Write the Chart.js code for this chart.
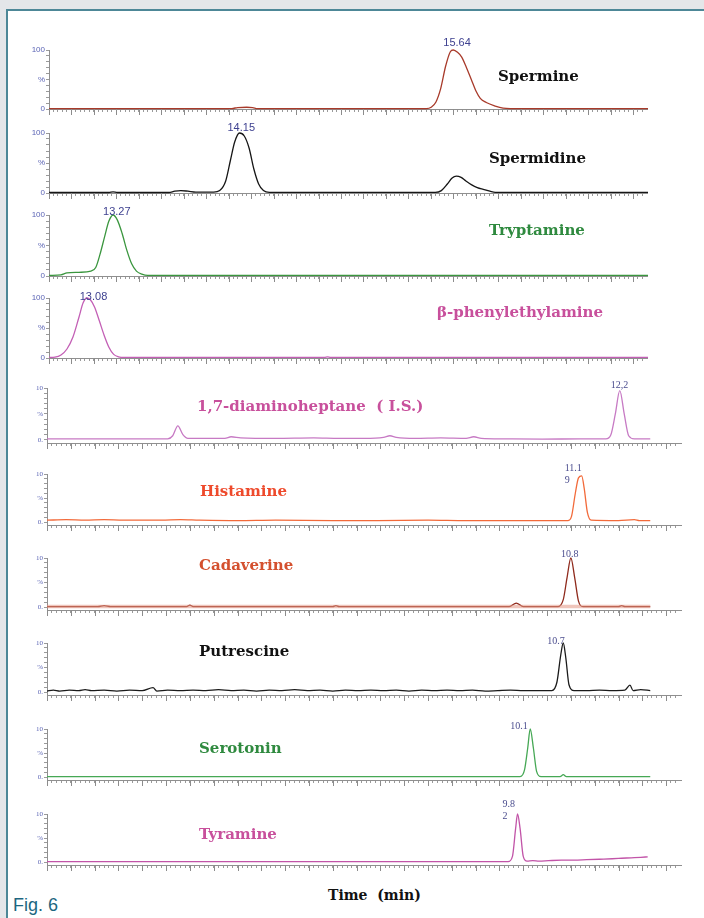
<!DOCTYPE html>
<html>
<head>
<meta charset="utf-8">
<title>Fig. 6</title>
<script src="https://cdn.jsdelivr.net/npm/chart.js@4/dist/chart.umd.min.js"></script>
<style>
  body { margin: 0; width: 704px; height: 918px; overflow: hidden; position: relative; background: #e4e6e9; }
  #frame { position: absolute; left: 6px; top: 9px; width: 800px; height: 1000px; background: #fff; border: 2px solid #4d8797; }
  canvas { position: absolute; }
  .name { position: absolute; font-family: "DejaVu Serif", serif; font-weight: bold; font-size: 15px; white-space: pre; line-height: 16px; transform: translateY(-50%); }
  .peak { position: absolute; white-space: pre; line-height: 12px; }
  .peak.big { font-family: "Liberation Sans", Arial, sans-serif; font-size: 11px; color: #3e4190; }
  .peak.small { font-family: "Liberation Serif", serif; font-size: 10px; color: #4b4d8e; }
  #xtitle { position: absolute; left: 328px; top: 887px; font-family: "DejaVu Serif", serif; font-weight: bold; font-size: 14px; white-space: pre; color: #111; }
  #fig { position: absolute; left: 13px; top: 895px; font-family: "Liberation Sans", Arial, sans-serif; font-size: 18px; color: #1d6680; }
</style>
</head>
<body>
<div id="frame"></div>
<div id="xtitle">Time  (min)</div>
<div id="fig">Fig. 6</div>
<script>
// each trace: [time position 0-100 along the panel axis, % of full scale]
const sperminePts = [[0,0.8],[30.5,0.8],[31.5,2.5],[33,3],[34,2.5],[34.8,0.8],[63,0.8],[63.8,3],[64.6,12],[65.4,35],[66.2,72],[67,97],[67.5,100],[68.2,96],[68.9,88],[69.7,70],[70.5,50],[71.3,30],[72,18],[73,11],[74.5,5],[75.8,1.5],[77,0.8],[100,0.8]];
const spermidinePts = [[0,0.8],[10,0.8],[10.7,2],[11.4,0.8],[20,0.8],[21,3],[22,4],[23.2,3],[24.5,1.5],[27.5,1.5],[28.5,4],[29.5,20],[30.3,55],[31,85],[31.8,100],[32.6,95],[33.4,75],[34.2,40],[35,15],[35.8,4],[36.8,1],[64.5,1],[65.5,4],[66.5,15],[67.3,25],[68,28],[68.8,26],[69.6,20],[70.5,14],[71.5,9],[72.5,6],[73.6,3],[74.5,1],[100,1]];
const tryptaminePts = [[0,1],[2,2],[3,5],[5,6],[7,8],[7.8,14],[8.5,35],[9.3,65],[10,90],[10.7,100],[11.4,92],[12.2,70],[13,42],[13.8,20],[14.6,8],[15.5,3],[16.5,1],[100,1]];
const phenylPts = [[0,1],[1,1.5],[2,5],[3,15],[4,35],[5,68],[5.7,92],[6.3,100],[6.9,97],[7.6,85],[8.4,62],[9.2,38],[10,18],[10.8,6],[11.6,2],[12.6,1],[46,1],[46.5,2],[47,1],[100,1]];
const diaminoPts = [[0,2],[10,2],[19,2],[19.8,8],[20.6,27],[21.4,10],[22.2,3],[28,3],[29,6],[30.5,4],[36,3],[42,4],[46,3],[50,3],[53,5],[54,8],[55,5],[58,3],[62,4],[66,3],[67.2,6],[68.4,3],[72,2],[78,1.5],[84,2],[88,2],[88.8,10],[89.5,50],[90.2,95],[90.9,50],[91.6,8],[92.5,2],[95,2]];
const histaminePts = [[0,4],[3,5],[6,4],[9,5],[12,4],[18,4],[21,5],[24,4],[30,3],[36,4],[45,3],[52,3],[60,4],[66,3],[74,3],[80,3],[82,3],[82.6,12],[83.2,60],[83.7,92],[84.2,96],[84.6,70],[85.1,20],[85.7,4],[90,3],[92.5,5],[93.3,3],[95,3]];
const cadaverinePts = [[0,1],[8,1],[9,3],[10,1],[22,1],[22.5,4],[23,1],[45,1],[45.5,3],[46,1],[60,1],[72.8,1],[73.9,8],[75,1],[80.5,1],[81.3,15],[81.9,60],[82.5,100],[83.1,60],[83.7,12],[84.4,1],[90,1],[90.5,3],[91,1],[95,1]];
const cadaverineBand = [[0,1],[95,1]];
const putrescinePts = [[0,2],[1,4],[2,2],[3.5,4],[5,3],[6,5],[7,3],[9,4],[11,2],[13,4],[15,3],[16.7,9],[17.3,2],[19,4],[21,3],[23,4],[25,3],[27,5],[29,3],[31,4],[33,2],[35,4],[37,3],[39,5],[41,3],[43,4],[45,2],[47,4],[49,3],[51,4],[53,3],[55,4],[57,2],[59,4],[61,3],[63,4],[65,3],[67,4],[69,2],[71,3],[73,4],[75,3],[77,3],[79.5,3],[80.3,20],[80.9,75],[81.3,100],[81.7,70],[82.2,15],[83,3],[85,3],[87,4],[89,3],[91,4],[91.8,14],[92.3,3],[93.5,5],[95,3]];
const serotoninPts = [[0,1],[74.5,1],[75.2,15],[75.7,60],[76.1,100],[76.6,60],[77.1,12],[77.8,1],[80.8,1],[81.3,5],[81.8,1],[95,1]];
const tyraminePts = [[0,1],[30,1],[72.6,1],[73.3,12],[73.8,70],[74.1,100],[74.5,70],[75,12],[75.6,2],[76.5,3],[77.5,2],[79,3],[81,4],[83,4],[85,5],[87,6],[89,7],[90.5,8],[92,9],[93.5,10],[94.6,11]];

// y tick labels at 0, 50 and 100 % of full scale
const bigTickLabels = ['0', '%', '100'];
const smallTickLabels = ['0.', '%', '10'];
const minorStep = 0.75;

const panels = [
  { pts: sperminePts, line: '#a83a2a', name: 'Spermine', nameColor: '#111', nx: 498, ny: 76, peakText: '15.64', pdx: -10, pdy: -14, top: 50, zero: 109, small: false },
  { pts: spermidinePts, line: '#161616', name: 'Spermidine', nameColor: '#111', nx: 489, ny: 158, peakText: '14.15', pdx: -12, pdy: -12, top: 133, zero: 193, small: false },
  { pts: tryptaminePts, line: '#3a963e', name: 'Tryptamine', nameColor: '#2f8a3f', nx: 489, ny: 230, peakText: '13.27', pdx: -10, pdy: -10, top: 215, zero: 276, small: false },
  { pts: phenylPts, line: '#c35fb5', name: 'β-phenylethylamine', nameColor: '#c8509c', nx: 437, ny: 312, peakText: '13.08', pdx: -7, pdy: -8, top: 298, zero: 358, small: false },
  { pts: diaminoPts, line: '#c77ac4', name: '1,7-diaminoheptane  ( I.S.)', nameColor: '#c8509c', nx: 197, ny: 406, peakText: '12,2', pdx: -9, pdy: -9, top: 388, zero: 440, small: true },
  { pts: histaminePts, line: '#f26a3a', name: 'Histamine', nameColor: '#ee4a2c', nx: 200, ny: 491, peakText: '11.1\n9', pdx: -17, pdy: -12, top: 474, zero: 522, small: true },
  { pts: cadaverinePts, band: cadaverineBand, line: '#8f2a1c', name: 'Cadaverine', nameColor: '#d4502e', nx: 199, ny: 565, peakText: '10.8', pdx: -10, pdy: -10, top: 558, zero: 607, small: true },
  { pts: putrescinePts, line: '#1a1a1a', name: 'Putrescine', nameColor: '#111', nx: 199, ny: 651, peakText: '10.7', pdx: -16, pdy: -8, top: 643, zero: 692, small: true },
  { pts: serotoninPts, line: '#46a855', name: 'Serotonin', nameColor: '#2f8a3f', nx: 199, ny: 748, peakText: '10.1', pdx: -20, pdy: -9, top: 729, zero: 777, small: true },
  { pts: tyraminePts, line: '#c254a8', name: 'Tyramine', nameColor: '#c8509c', nx: 199, ny: 834, peakText: '9.8\n2', pdx: -15, pdy: -16, top: 814, zero: 862, small: true },
];

// longer tick every 5th minor tick on the time axis
const majorTicks = {
  id: 'majorTicks',
  afterDraw(chart) {
    const sx = chart.scales.x, ctx = chart.ctx;
    ctx.save();
    ctx.strokeStyle = '#8c8c8c';
    ctx.lineWidth = 1;
    sx.ticks.forEach((t, i) => {
      if (i % 5 !== 0) return;
      const px = Math.round(sx.getPixelForValue(t.value)) + 0.5;
      ctx.beginPath();
      ctx.moveTo(px, sx.top);
      ctx.lineTo(px, sx.top + 6);
      ctx.stroke();
    });
    ctx.restore();
  }
};

const toXY = pts => pts.map(([x, y]) => ({ x, y }));

function drawPanel(p) {
  const padTop = 8, xAxisH = 8, yAxisW = 22;
  const axisX = p.small ? 47 : 49;
  const right = p.small ? 682 : 648;
  const yMin = p.small ? -6 : 0;
  const plotH = (p.zero - p.top) * (100 - yMin) / 100;
  const left = axisX - yAxisW;
  const top = p.top - padTop;

  const canvas = document.createElement('canvas');
  canvas.width = right - left;
  canvas.height = Math.round(plotH + padTop + xAxisH);
  canvas.style.left = left + 'px';
  canvas.style.top = top + 'px';
  document.body.appendChild(canvas);

  const labels = p.small ? smallTickLabels : bigTickLabels;
  const family = p.small ? '"Liberation Serif", serif' : '"Liberation Sans", Arial, sans-serif';

  const datasets = [];
  if (p.band) {
    datasets.push({ data: toXY(p.band), borderColor: 'rgba(226,150,132,0.55)', borderWidth: 3.5 });
  }
  datasets.push({ data: toXY(p.pts), borderColor: p.line, borderWidth: 1.3 });

  const chart = new Chart(canvas, {
    type: 'line',
    data: { datasets },
    options: {
      responsive: false,
      animation: false,
      events: [],
      clip: false,
      layout: { padding: { top: padTop, left: 0, right: 0, bottom: 0 } },
      plugins: { legend: { display: false }, tooltip: { enabled: false } },
      elements: { point: { radius: 0 }, line: { cubicInterpolationMode: 'monotone' } },
      scales: {
        x: {
          type: 'linear', min: 0, max: 100,
          afterFit: s => { s.height = xAxisH; },
          ticks: { display: false, stepSize: minorStep, autoSkip: false },
          grid: { drawOnChartArea: false, tickLength: 3, color: '#9a9a9a' },
          border: { color: '#8f8f8f' }
        },
        y: {
          min: yMin, max: 100,
          afterFit: s => { s.width = yAxisW; },
          ticks: {
            stepSize: 10, includeBounds: false, autoSkip: false, padding: 1,
            color: '#5b64b5', font: { size: p.small ? 7 : 8, family },
            callback: v => v === 0 ? labels[0] : v === 50 ? labels[1] : v === 100 ? labels[2] : ''
          },
          grid: { drawOnChartArea: false, tickLength: 3, color: '#9a9a9a' },
          border: { color: '#8f8f8f' }
        }
      }
    },
    plugins: [majorTicks]
  });

  const peak = p.pts.reduce((a, b) => b[1] > a[1] ? b : a);
  const lbl = document.createElement('div');
  lbl.className = 'peak ' + (p.small ? 'small' : 'big');
  lbl.textContent = p.peakText;
  lbl.style.left = (left + chart.scales.x.getPixelForValue(peak[0]) + p.pdx) + 'px';
  lbl.style.top = (top + chart.scales.y.getPixelForValue(100) + p.pdy) + 'px';
  document.body.appendChild(lbl);

  const nm = document.createElement('div');
  nm.className = 'name';
  nm.textContent = p.name;
  nm.style.color = p.nameColor;
  nm.style.left = p.nx + 'px';
  nm.style.top = p.ny + 'px';
  document.body.appendChild(nm);
}

panels.forEach(drawPanel);
</script>
</body>
</html>
